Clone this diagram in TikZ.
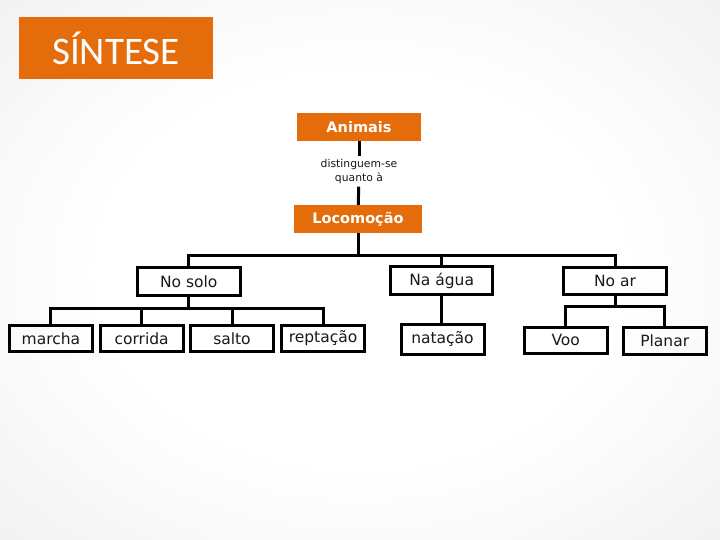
\documentclass[tikz,border=0pt]{standalone}
\usepackage{fontspec}
\setmainfont{DejaVu Sans}
\newfontfamily\titlefont{Carlito}
\usetikzlibrary{positioning}
\definecolor{laranja}{RGB}{228,108,10}
\pgfdeclareradialshading{fundo}{\pgfpoint{0bp}{0bp}}{color(0bp)=(white); color(18bp)=(white); color(50bp)=(black!9); color(72bp)=(black!14)}

\begin{document}
\begin{tikzpicture}[x=1pt,y=-1pt,
  every node/.style={font=\fontsize{15.5}{18}\selectfont,text=black!90},
  topo/.style={fill=laranja,text=white,font=\bfseries\fontsize{14.5}{17}\selectfont,minimum height=28pt,inner sep=0pt},
  grupo/.style={draw=black,line width=3pt,minimum width=102.5pt,minimum height=27.5pt,inner sep=0pt},
  folha/.style={draw=black,line width=3pt,minimum width=83pt,minimum height=26.5pt,inner sep=0pt},
  liga/.style={line width=3pt}]
  \shade[shading=fundo] (0,0) rectangle (720,540);
  \useasboundingbox (0,0) rectangle (720,540);
  \node[fill=laranja,minimum width=194pt,minimum height=62pt,text=white,font=\titlefont\fontsize{39}{40}\selectfont] (sintese) at (116,48) {SÍNTESE};
  % mapa
  \node[topo,minimum width=124pt] (animais) at (359,127) {Animais};
  \node[align=center,inner sep=3pt,font=\fontsize{10.8}{13.5}\selectfont] (quanto) at (359,171.5) {distinguem-se\\quanto à};
  \node[topo,minimum width=128pt] (loco) at (358,219) {Locomoção};
  \draw[liga] (animais) -- (quanto);
  \draw[liga] (quanto) -- (loco);
  \node[grupo] (solo) at (188.8,281.5) {No solo};
  \node[grupo] (agua) at (441.7,280.5) {Na água};
  \node[grupo] (ar) at (615,281) {No ar};
  \draw[liga] (loco.south) -- ++(0,22) coordinate (barra);
  \draw[liga] (barra) -| (solo.north);
  \draw[liga] (barra) -| (ar.north);
  \draw[liga] (barra -| agua.north) -- (agua.north);
  % folhas
  \node[folha] (marcha) at (50.9,338.4) {marcha};
  \node[folha] (corrida) at (141.6,338.5) {corrida};
  \node[folha] (salto) at (232,338.5) {salto};
  \node[folha] (reptacao) at (323,338.5) {reptação};
  \node[folha,minimum height=30pt] (natacao) at (442.5,339.4) {natação};
  \node[folha] (voo) at (565.7,340.3) {Voo};
  \node[folha] (planar) at (664.7,340.8) {Planar};
  \draw[liga] (solo.south) -- ++(0,12) coordinate (barra1);
  \draw[liga] (barra1) -| (marcha.north);
  \draw[liga] (barra1) -| (reptacao.north);
  \draw[liga] (barra1 -| corrida.north) -- (corrida.north);
  \draw[liga] (barra1 -| salto.north) -- (salto.north);
  \draw[liga] (agua.south) -- (agua.south |- natacao.north);
  \draw[liga] (ar.south) -- ++(0,10) coordinate (barra3);
  \draw[liga] (barra3) -| (voo.north);
  \draw[liga] (barra3) -| (planar.north);
\end{tikzpicture}
\end{document}
